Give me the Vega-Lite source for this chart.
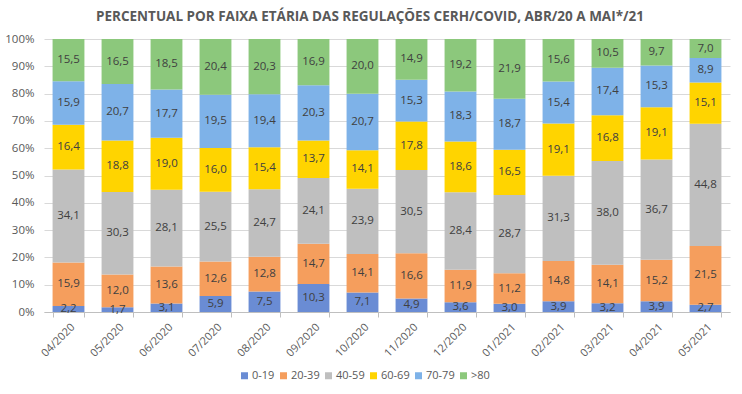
{
  "$schema": "https://vega.github.io/schema/vega-lite/v6.json",
  "width": 686,
  "height": 273,
  "autosize": {"type": "none"},
  "padding": {"left": 44, "top": 39, "right": 12, "bottom": 82},
  "background": "white",
  "title": {
    "text": "PERCENTUAL POR FAIXA ETÁRIA DAS REGULAÇÕES CERH/COVID, ABR/20 A MAI*/21",
    "anchor": "middle",
    "dx": -17,
    "offset": 10,
    "font": "Open Sans",
    "fontSize": 13.5,
    "fontWeight": "bold",
    "color": "#595959"
  },
  "config": {
    "locale": {"number": {"decimal": ",", "thousands": ".", "grouping": [3], "currency": ["", ""]}},
    "view": {"stroke": null},
    "font": "Open Sans"
  },
  "data": {"values": [
    {"m":"04/2020","g":"0-19","o":1,"v":2.2},{"m":"04/2020","g":"20-39","o":2,"v":15.9},{"m":"04/2020","g":"40-59","o":3,"v":34.1},{"m":"04/2020","g":"60-69","o":4,"v":16.4},{"m":"04/2020","g":"70-79","o":5,"v":15.9},{"m":"04/2020","g":">80","o":6,"v":15.5},
    {"m":"05/2020","g":"0-19","o":1,"v":1.7},{"m":"05/2020","g":"20-39","o":2,"v":12.0},{"m":"05/2020","g":"40-59","o":3,"v":30.3},{"m":"05/2020","g":"60-69","o":4,"v":18.8},{"m":"05/2020","g":"70-79","o":5,"v":20.7},{"m":"05/2020","g":">80","o":6,"v":16.5},
    {"m":"06/2020","g":"0-19","o":1,"v":3.1},{"m":"06/2020","g":"20-39","o":2,"v":13.6},{"m":"06/2020","g":"40-59","o":3,"v":28.1},{"m":"06/2020","g":"60-69","o":4,"v":19.0},{"m":"06/2020","g":"70-79","o":5,"v":17.7},{"m":"06/2020","g":">80","o":6,"v":18.5},
    {"m":"07/2020","g":"0-19","o":1,"v":5.9},{"m":"07/2020","g":"20-39","o":2,"v":12.6},{"m":"07/2020","g":"40-59","o":3,"v":25.5},{"m":"07/2020","g":"60-69","o":4,"v":16.0},{"m":"07/2020","g":"70-79","o":5,"v":19.5},{"m":"07/2020","g":">80","o":6,"v":20.4},
    {"m":"08/2020","g":"0-19","o":1,"v":7.5},{"m":"08/2020","g":"20-39","o":2,"v":12.8},{"m":"08/2020","g":"40-59","o":3,"v":24.7},{"m":"08/2020","g":"60-69","o":4,"v":15.4},{"m":"08/2020","g":"70-79","o":5,"v":19.4},{"m":"08/2020","g":">80","o":6,"v":20.3},
    {"m":"09/2020","g":"0-19","o":1,"v":10.3},{"m":"09/2020","g":"20-39","o":2,"v":14.7},{"m":"09/2020","g":"40-59","o":3,"v":24.1},{"m":"09/2020","g":"60-69","o":4,"v":13.7},{"m":"09/2020","g":"70-79","o":5,"v":20.3},{"m":"09/2020","g":">80","o":6,"v":16.9},
    {"m":"10/2020","g":"0-19","o":1,"v":7.1},{"m":"10/2020","g":"20-39","o":2,"v":14.1},{"m":"10/2020","g":"40-59","o":3,"v":23.9},{"m":"10/2020","g":"60-69","o":4,"v":14.1},{"m":"10/2020","g":"70-79","o":5,"v":20.7},{"m":"10/2020","g":">80","o":6,"v":20.0},
    {"m":"11/2020","g":"0-19","o":1,"v":4.9},{"m":"11/2020","g":"20-39","o":2,"v":16.6},{"m":"11/2020","g":"40-59","o":3,"v":30.5},{"m":"11/2020","g":"60-69","o":4,"v":17.8},{"m":"11/2020","g":"70-79","o":5,"v":15.3},{"m":"11/2020","g":">80","o":6,"v":14.9},
    {"m":"12/2020","g":"0-19","o":1,"v":3.6},{"m":"12/2020","g":"20-39","o":2,"v":11.9},{"m":"12/2020","g":"40-59","o":3,"v":28.4},{"m":"12/2020","g":"60-69","o":4,"v":18.6},{"m":"12/2020","g":"70-79","o":5,"v":18.3},{"m":"12/2020","g":">80","o":6,"v":19.2},
    {"m":"01/2021","g":"0-19","o":1,"v":3.0},{"m":"01/2021","g":"20-39","o":2,"v":11.2},{"m":"01/2021","g":"40-59","o":3,"v":28.7},{"m":"01/2021","g":"60-69","o":4,"v":16.5},{"m":"01/2021","g":"70-79","o":5,"v":18.7},{"m":"01/2021","g":">80","o":6,"v":21.9},
    {"m":"02/2021","g":"0-19","o":1,"v":3.9},{"m":"02/2021","g":"20-39","o":2,"v":14.8},{"m":"02/2021","g":"40-59","o":3,"v":31.3},{"m":"02/2021","g":"60-69","o":4,"v":19.1},{"m":"02/2021","g":"70-79","o":5,"v":15.4},{"m":"02/2021","g":">80","o":6,"v":15.6},
    {"m":"03/2021","g":"0-19","o":1,"v":3.2},{"m":"03/2021","g":"20-39","o":2,"v":14.1},{"m":"03/2021","g":"40-59","o":3,"v":38.0},{"m":"03/2021","g":"60-69","o":4,"v":16.8},{"m":"03/2021","g":"70-79","o":5,"v":17.4},{"m":"03/2021","g":">80","o":6,"v":10.5},
    {"m":"04/2021","g":"0-19","o":1,"v":3.9},{"m":"04/2021","g":"20-39","o":2,"v":15.2},{"m":"04/2021","g":"40-59","o":3,"v":36.7},{"m":"04/2021","g":"60-69","o":4,"v":19.1},{"m":"04/2021","g":"70-79","o":5,"v":15.3},{"m":"04/2021","g":">80","o":6,"v":9.7},
    {"m":"05/2021","g":"0-19","o":1,"v":2.7},{"m":"05/2021","g":"20-39","o":2,"v":21.5},{"m":"05/2021","g":"40-59","o":3,"v":44.8},{"m":"05/2021","g":"60-69","o":4,"v":15.1},{"m":"05/2021","g":"70-79","o":5,"v":8.9},{"m":"05/2021","g":">80","o":6,"v":7.0}
  ]},
  "transform": [
    {"stack": "v", "groupby": ["m"], "sort": [{"field": "o", "order": "ascending"}], "offset": "normalize", "as": ["y0", "y1"]},
    {"calculate": "(datum.y0 + datum.y1) / 2", "as": "mid"}
  ],
  "encoding": {
    "x": {
      "field": "m", "type": "ordinal", "sort": null, "title": null,
      "scale": {"paddingInner": 0.35, "paddingOuter": 0.175},
      "axis": {
        "labelAngle": -45, "labelAlign": "right", "labelBaseline": "top",
        "labelFontSize": 11, "labelColor": "#595959", "labelPadding": 4,
        "tickBand": "extent", "tickColor": "#BFBFBF", "tickSize": 5,
        "domainColor": "#BFBFBF", "grid": false
      }
    }
  },
  "layer": [
    {
      "mark": {"type": "bar"},
      "encoding": {
        "y": {"field": "y0", "type": "quantitative", "scale": {"domain": [0, 1], "nice": false},
          "title": null,
          "axis": {"format": ".0%", "values": [0,0.1,0.2,0.3,0.4,0.5,0.6,0.7,0.8,0.9,1],
            "labelOverlap": false,
            "domain": false, "ticks": false, "labelFontSize": 11.5, "labelColor": "#595959", "labelPadding": 10,
            "gridColor": "#D9D9D9", "gridWidth": 1}},
        "y2": {"field": "y1"},
        "color": {
          "field": "g", "type": "nominal",
          "scale": {"domain": ["0-19", "20-39", "40-59", "60-69", "70-79", ">80"],
                    "range": ["#6A8CD4", "#F59E5D", "#BFBFBF", "#FFD400", "#7EB2E8", "#8CC87C"]},
          "legend": {
            "title": null, "orient": "none", "direction": "horizontal",
            "legendX": 195, "legendY": 331,
            "symbolType": "square", "symbolSize": 49, "symbolStrokeWidth": 0,
            "labelFontSize": 11, "labelColor": "#595959", "columnPadding": 3, "labelOffset": 2
          }
        }
      }
    },
    {
      "mark": {"type": "text", "fontSize": 11.5, "color": "#404040", "baseline": "middle"},
      "encoding": {
        "y": {"field": "mid", "type": "quantitative", "scale": {"domain": [0, 1], "nice": false},
          "axis": {"format": ".0%", "values": [0,0.1,0.2,0.3,0.4,0.5,0.6,0.7,0.8,0.9,1],
            "labelOverlap": false, "title": null,
            "domain": false, "ticks": false, "labelFontSize": 11.5, "labelColor": "#595959", "labelPadding": 10,
            "gridColor": "#D9D9D9", "gridWidth": 1}},
        "text": {"field": "v", "type": "quantitative", "format": ".1f"}
      }
    }
  ]
}
